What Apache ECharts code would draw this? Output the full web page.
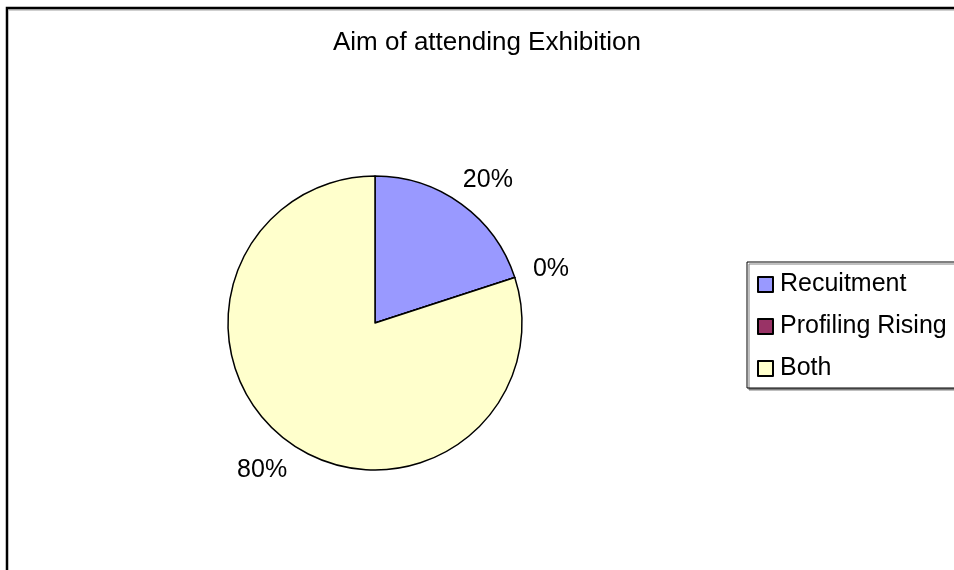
<!DOCTYPE html>
<html>
<head>
<meta charset="utf-8">
<script src="https://cdn.jsdelivr.net/npm/echarts@6/dist/echarts.min.js"></script>
<style>
html,body{margin:0;padding:0;background:#fff;}
#chart{width:954px;height:570px;}
</style>
</head>
<body>
<div id="chart"></div>
<script>
const titleText = 'Aim of attending Exhibition';
const categories = ['Recuitment', 'Profiling Rising', 'Both'];
const values = [20, 0, 80];
const colors = ['#9999FF', '#993366', '#FFFFCC'];

const FONT = '"Liberation Sans", Arial, sans-serif';
const chart = echarts.init(document.getElementById('chart'), null, {renderer: 'canvas'});
chart.setOption({
  backgroundColor: '#ffffff',
  animation: false,
  title: {
    text: titleText,
    left: 333,
    top: 30,
    padding: 0,
    textStyle: {fontFamily: FONT, fontSize: 26, fontWeight: 'normal', color: '#000'}
  },
  legend: {
    orient: 'vertical',
    left: 747,
    top: 262,
    padding: [10, 30, 7, 10],
    itemWidth: 15,
    itemHeight: 15,
    itemGap: 17,
    icon: 'rect',
    borderColor: '#000',
    borderWidth: 1,
    backgroundColor: '#fff',
    shadowColor: '#808080',
    shadowOffsetX: 2,
    shadowOffsetY: 2,
    shadowBlur: 0,
    data: categories,
    textStyle: {fontFamily: FONT, fontSize: 25, color: '#000', padding: [0, 0, 0, 2]}
  },
  graphic: [{
    type: 'rect',
    shape: {x: 7, y: 8, width: 1200, height: 1000},
    style: {fill: 'none', stroke: '#000', lineWidth: 2.5},
    silent: true,
    z: 100
  }, {
    type: 'line',
    shape: {x1: 9, y1: 10, x2: 1200, y2: 10},
    style: {stroke: '#a0a0a0', lineWidth: 1},
    silent: true,
    z: 99
  }],
  series: [{
    type: 'pie',
    center: [375, 323],
    radius: 147,
    startAngle: 90,
    clockwise: true,
    minShowLabelAngle: 0,
    avoidLabelOverlap: false,
    stillShowZeroSum: true,
    color: colors,
    itemStyle: {borderColor: '#000', borderWidth: 1.5},
    label: {
      show: true,
      position: 'outside',
      formatter: p => p.value + '%',
      fontFamily: FONT,
      fontSize: 25,
      color: '#000'
    },
    labelLine: {show: true, length: 20, length2: 0, lineStyle: {opacity: 0, width: 0}},
    labelLayout: function (params) {
      const pts = params.labelLinePoints;
      if (!pts || pts.length < 2) return {};
      const p0 = pts[0], p1 = pts[1];
      const dx = p1[0] - p0[0], dy = p1[1] - p0[1];
      const len = Math.sqrt(dx * dx + dy * dy) || 1;
      const ux = dx / len, uy = dy / len;
      const w = params.labelRect.width, h = params.labelRect.height;
      return {
        x: p1[0] + ux * w / 2,
        y: p1[1] + uy * h / 2 + 2,
        align: 'center',
        verticalAlign: 'middle'
      };
    },
    emphasis: {disabled: true},
    data: categories.map((c, i) => ({name: c, value: values[i]}))
  }]
});
</script>
</body>
</html>
